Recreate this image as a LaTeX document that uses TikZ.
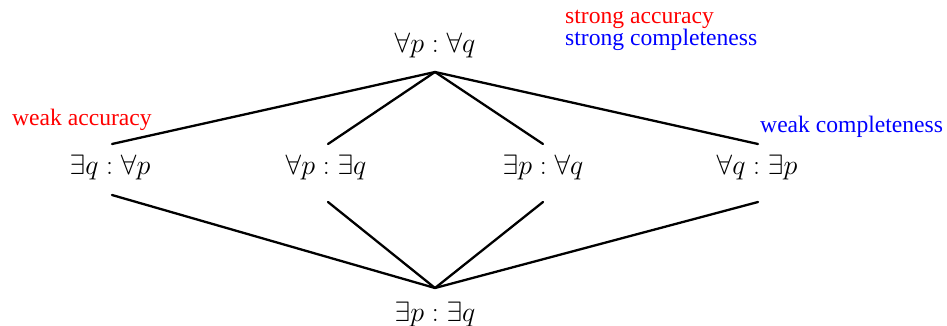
\RequirePackage{fix-cm}
\documentclass[tikz,border=0pt]{standalone}
\usepackage{fontspec}
\setmainfont{Liberation Serif}
\begin{document}
\begin{tikzpicture}[x=1pt,y=-1pt,
  formula/.style={anchor=base,inner sep=0pt,font=\fontsize{28}{32}\selectfont},
  lbl/.style={anchor=base west,inner sep=0pt,font=\fontsize{23.6}{27}\selectfont},
  edge/.style={line width=2.3pt,line cap=round}]
\useasboundingbox (0,0) rectangle (947,326);
\node[formula] (top) at (435,53) {$\forall p : \forall q$};
\node[formula] (n1) at (110,174) {$\exists q : \forall p$};
\node[formula] (n2) at (326,174) {$\forall p : \exists q$};
\node[formula] (n3) at (543,174) {$\exists p : \forall q$};
\node[formula] (n4) at (757,174) {$\forall q : \exists p$};
\node[formula] (bot) at (435,321) {$\exists p : \exists q$};
\node[lbl,text=red] (sa) at (565,24) {strong accuracy};
\node[lbl,text=blue] (sc) at (565,46) {strong completeness};
\node[lbl,text=red] (wa) at (12,125) {weak accuracy};
\node[lbl,text=blue] (wc) at (760,132) {weak completeness};
\coordinate (ta) at (435,72);
\coordinate (ba) at (435,288);
\coordinate (n1t) at (112,144);
\coordinate (n1b) at (112,195);
\coordinate (n2t) at (328,144);
\coordinate (n2b) at (328,202);
\coordinate (n3t) at (543,144);
\coordinate (n3b) at (543,202);
\coordinate (n4t) at (758,144);
\coordinate (n4b) at (758,202);
\foreach \n in {n1,n2,n3,n4}{
  \draw[edge] (ta) -- (\n t);
  \draw[edge] (\n b) -- (ba);
}
\end{tikzpicture}
\end{document}
